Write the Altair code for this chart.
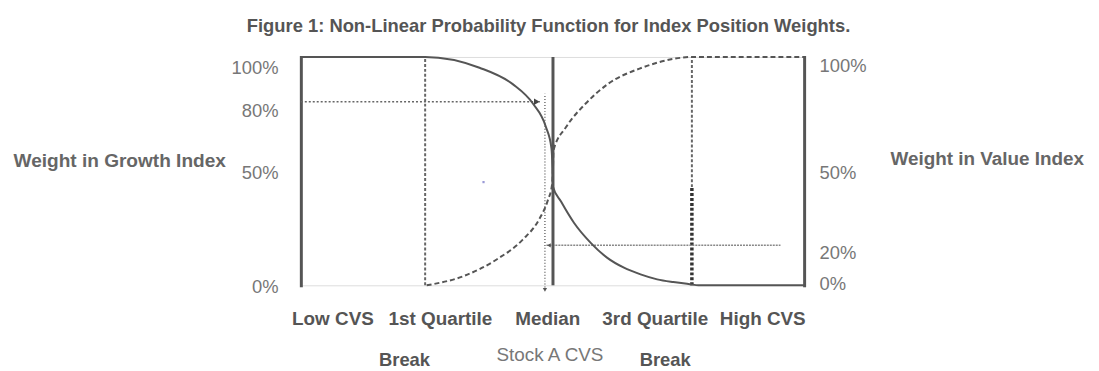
import altair as alt
import pandas as pd

FONT = "Liberation Sans"

title_text = "Figure 1: Non-Linear Probability Function for Index Position Weights."

# Growth-index weight (solid curve): CVS position (0-100) vs weight (%)
growth_x = [0, 24.7, 35.5, 42.1, 46.1, 48.7, 49.8, 50.0, 50.1, 51.7, 54.3, 57.6, 60.9, 64.2, 67.5, 70.8, 74.0, 77.3, 79.0, 100]
growth_y = [100, 100, 95.3, 88.1, 79.6, 69.3, 60.0, 51.3, 43.2, 36.7, 27.3, 18.6, 12.0, 7.7, 4.8, 2.6, 1.4, 0.5, 0, 0]

# Value-index weight (dashed curve)
value_x = [25.0, 32.3, 38.9, 44.1, 47.3, 49.1, 49.9, 50.1, 50.2, 52.7, 56.6, 61.1, 67.8, 74.4, 77.7, 100]
value_y = [0, 4.0, 11.3, 20.0, 28.7, 37.4, 43.9, 51.3, 59.1, 69.3, 79.6, 88.3, 95.3, 99.3, 100, 100]

cvs_labels = ["Low CVS", "1st Quartile", "Median", "3rd Quartile", "High CVS"]
left_ticks = [0, 50, 80, 100]
right_ticks = [0, 20, 50, 100]

break_x = [24.7, 77.7]          # 1st / 3rd quartile breaks
median_x = [50.1]
stock_x = [48.5]                # Stock A CVS
stock_top = [83.9]
q3_split = [43.0]               # lower heavy part of 3rd quartile line
h80_y = [80.4]
h80_x2 = [47.5]
h20_y = [17.5]
h20_x = [48.8]
h20_x2 = [95.3]

break_text = ["Break", "Break"]
break_text_x = [20.6, 72.4]
stock_text = ["Stock A CVS"]
stock_text_x = [49.5]

stray_x = [36.3]
stray_y = [45.2]

xs = alt.Scale(domain=[0, 100], nice=False, zero=False)
ys = alt.Scale(domain=[0, 100], nice=False, zero=False)


def X(field, axis=None):
    return alt.X(field, type="quantitative", scale=xs, axis=axis)


def Y(field, axis=None):
    return alt.Y(field, type="quantitative", scale=ys, axis=axis)


growth_df = pd.DataFrame({"x": growth_x, "y": growth_y})
value_df = pd.DataFrame({"x": value_x, "y": value_y})

bottom_axis = alt.Axis(title=None, labels=False, ticks=False, grid=False,
                       domainColor="#555", domainWidth=3, domainCap="square")

left_axis = alt.Axis(
    orient="left", values=left_ticks, labelExpr="datum.value + '%'",
    title="Weight in Growth Index", titleAngle=0, titleAlign="center",
    titleBaseline="alphabetic", titleX=-183, titleY=110,
    titleFont=FONT, titleFontSize=19.2, titleFontWeight="bold", titleColor="#666",
    grid=False, ticks=False, tickSize=0,
    domainColor="#555", domainWidth=3, domainCap="square",
    labelFont=FONT, labelFontSize=18.5, labelColor="#777", labelPadding=23,
    labelOffset={"condition": [{"test": "datum.value == 100", "value": 11},
                               {"test": "datum.value == 80", "value": 8}],
                 "value": 1},
)

right_axis = alt.Axis(
    orient="right", values=right_ticks, labelExpr="datum.value + '%'",
    title="Weight in Value Index", titleAngle=0, titleAlign="center",
    titleBaseline="alphabetic", titleX=184, titleY=108,
    titleFont=FONT, titleFontSize=19, titleFontWeight="bold", titleColor="#666",
    grid=False, ticks=False, tickSize=0,
    domainColor="#555", domainWidth=3, domainCap="square",
    labelFont=FONT, labelFontSize=18.5, labelColor="#777", labelPadding=15,
    labelOffset={"condition": [{"test": "datum.value == 100", "value": 9},
                               {"test": "datum.value == 20", "value": 13},
                               {"test": "datum.value == 0", "value": -2}],
                 "value": 1},
)

growth = alt.Chart(growth_df).mark_line(color="#555", strokeWidth=2, interpolate="monotone").encode(
    x=X("x", bottom_axis), y=Y("y", left_axis)
)
value = alt.Chart(value_df).mark_line(color="#555", strokeWidth=2, strokeDash=[5, 3],
                                      interpolate="monotone").encode(
    x=X("x"), y=Y("y", right_axis)
)

q_df = pd.DataFrame({"x": break_x, "y": [0, q3_split[0]], "y2": [100, 100]})
q_lines = alt.Chart(q_df).mark_rule(color="#666", strokeWidth=2, strokeDash=[3, 2]).encode(
    x=X("x"), y=Y("y"), y2="y2"
)
q3_low_df = pd.DataFrame({"x": [break_x[1]], "y": [0], "y2": q3_split})
q3_low = alt.Chart(q3_low_df).mark_rule(color="#333", strokeWidth=3.5, strokeDash=[3, 2]).encode(
    x=X("x"), y=Y("y"), y2="y2"
)
med_df = pd.DataFrame({"x": median_x, "y": [0], "y2": [100]})
med = alt.Chart(med_df).mark_rule(color="#555", strokeWidth=3).encode(
    x=X("x"), y=Y("y"), y2="y2"
)
stock_df = pd.DataFrame({"x": stock_x, "y": [-1], "y2": stock_top})
stock = alt.Chart(stock_df).mark_rule(color="#666", strokeWidth=1.4, strokeDash=[1, 2]).encode(
    x=X("x"), y=Y("y"), y2="y2"
)
h80_df = pd.DataFrame({"x": [0], "x2": h80_x2, "y": h80_y})
h80 = alt.Chart(h80_df).mark_rule(color="#666", strokeWidth=1.5, strokeDash=[2, 2]).encode(
    x=X("x"), x2="x2", y=Y("y")
)
h20_df = pd.DataFrame({"x": h20_x, "x2": h20_x2, "y": h20_y})
h20 = alt.Chart(h20_df).mark_rule(color="#888", strokeWidth=1.5, strokeDash=[2, 1]).encode(
    x=X("x"), x2="x2", y=Y("y")
)

arrow_r = alt.Chart(pd.DataFrame({"x": [46.9], "y": h80_y})).mark_point(
    shape="triangle-right", filled=True, size=45, color="#444", opacity=1).encode(x=X("x"), y=Y("y"))
arrow_l = alt.Chart(pd.DataFrame({"x": [49.3], "y": h20_y})).mark_point(
    shape="triangle-left", filled=True, size=18, color="#555", opacity=1).encode(x=X("x"), y=Y("y"))
arrow_d = alt.Chart(pd.DataFrame({"x": stock_x, "y": [-2.0]})).mark_point(
    shape="triangle-down", filled=True, size=18, color="#555", opacity=1).encode(x=X("x"), y=Y("y"))

stray = alt.Chart(pd.DataFrame({"x": stray_x, "y": stray_y})).mark_point(
    shape="square", filled=True, size=5, color="#9a9ad6", opacity=1).encode(x=X("x"), y=Y("y"))

breaks = alt.Chart(pd.DataFrame({"x": break_text_x, "t": break_text, "y": [0, 0]})).mark_text(
    font=FONT, fontSize=18.5, fontWeight="bold", color="#555", baseline="alphabetic", dy=81
).encode(x=X("x"), y=Y("y"), text="t:N")
stock_lbl = alt.Chart(pd.DataFrame({"x": stock_text_x, "t": stock_text, "y": [0]})).mark_text(
    font=FONT, fontSize=19, color="#777", baseline="alphabetic", dy=76
).encode(x=X("x"), y=Y("y"), text="t:N")

inner = alt.layer(
    q_lines, q3_low, stock, h80, h20, med, growth, value,
    arrow_r, arrow_l, arrow_d, stray, breaks, stock_lbl
).resolve_axis(y="independent")

labels = alt.Chart(pd.DataFrame({"cat": cvs_labels})).mark_point(opacity=0).encode(
    x=alt.X("cat:N", sort=cvs_labels,
            scale=alt.Scale(type="point", padding=0.342, align=0.43),
            axis=alt.Axis(orient="bottom", title=None, domain=False, ticks=False, tickSize=0,
                          grid=False, labelAngle=0, labelFont=FONT, labelFontSize=19,
                          labelFontWeight="bold", labelColor="#555", labelPadding=25))
)

chart = alt.layer(inner, labels).resolve_scale(x="independent").properties(
    width=507, height=230,
    title=alt.TitleParams(text=title_text, font=FONT, fontSize=18.5, fontWeight="bold",
                          color="#555", anchor="middle", dx=-4, baseline="alphabetic", offset=3),
    padding={"left": 295, "top": 48, "right": 289, "bottom": 85},
    autosize=alt.AutoSizeParams(type="none"),
).configure_view(stroke=None).configure(background="white")

chart.save("out.html", embed_options={"renderer": "svg", "actions": False})
